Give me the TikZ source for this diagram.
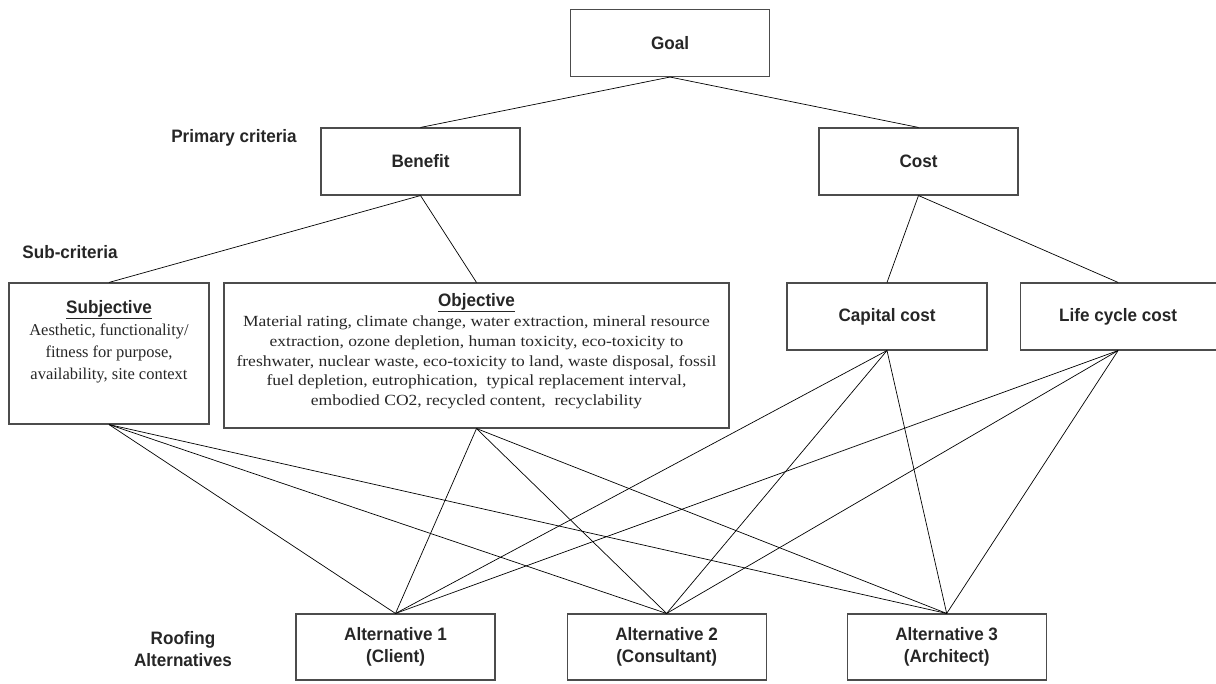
\documentclass[tikz,border=0pt]{standalone}
\usepackage{fontspec}
\setmainfont{Liberation Serif}
\setsansfont{Liberation Sans}[FakeStretch=0.95]
\newfontfamily\widefont{Liberation Serif}[FakeStretch=1.13]
\usetikzlibrary{positioning}

\begin{document}
\begin{tikzpicture}[
    x=1pt, y=-1pt,
    node distance=71pt and 71pt,
    box/.style={draw=black!70, line width=1.1pt, rectangle, minimum width=199pt, minimum height=67pt, inner sep=0pt, align=center, font=\fontsize{18}{22.5}\selectfont\sffamily\bfseries, text=black!85},
    level/.style={align=center, font=\fontsize{18}{21.5}\selectfont\sffamily\bfseries, text=black!85},
    body/.style={align=center, inner sep=0pt, font=\fontsize{16.5}{22}\selectfont\rmfamily, text=black!85},
    title/.style={font=\fontsize{18}{22}\selectfont\sffamily\bfseries},
    link/.style={draw, black, line width=0.7pt}
]
    \useasboundingbox (0,0) rectangle (1216,684);

    % goal and primary criteria
    \node[box] (goal) at (670,43) {Goal};
    \node[box] (benefit) at (420.5,161.5) {Benefit};
    \node[box] (cost) at (918.5,161.5) {Cost};

    % sub-criteria
    \node[box, minimum width=200pt, minimum height=141pt] (subj) at (109,353.5) {};
    \node[box, minimum width=505pt, minimum height=145pt] (obj) at (476.5,355.5) {};
    \node[box, minimum width=200pt] (capital) at (887,316.5) {Capital cost};
    \node[box, minimum width=196pt, right=32pt of capital] (life) {Life cycle cost};

    \node[body, anchor=north] (subjtxt) at (109,300) {{\fontsize{18}{22}\selectfont\sffamily\bfseries\underline{Subjective}}\\
        Aesthetic, functionality/\\
        fitness for purpose,\\
        availability, site context};
    \node[body, anchor=north, font=\fontsize{15.5}{19.6}\selectfont\widefont] (objtxt) at (476.5,293) {{\fontsize{18}{22}\selectfont\sffamily\bfseries\underline{Objective}}\\[1pt]
        Material rating, climate change, water extraction, mineral resource\\
        extraction, ozone depletion, human toxicity, eco-toxicity to\\
        freshwater, nuclear waste, eco-toxicity to land, waste disposal, fossil\\
        fuel depletion, eutrophication,\ \ typical replacement interval,\\
        embodied CO2, recycled content,\ \ recyclability};

    % alternatives
    \node[box, minimum height=66pt] (alt1) at (395.5,647) {Alternative 1\\(Client)};
    \node[box, minimum height=66pt, right=71pt of alt1] (alt2) {Alternative 2\\(Consultant)};
    \node[box, minimum height=66pt, right=80pt of alt2] (alt3) {Alternative 3\\(Architect)};

    % level labels
    \node[level] (primlbl) at (234,137.5) {Primary criteria};
    \node[level] (sublbl) at (70,252) {Sub-criteria};
    \node[level] (altlbl) at (183,649) {Roofing\\Alternatives};

    % connectors
    \draw[link] (goal.south) -- (benefit.north);
    \draw[link] (goal.south) -- (cost.north);
    \draw[link] (benefit.south) -- (subj.north);
    \draw[link] (benefit.south) -- (obj.north);
    \draw[link] (cost.south) -- (capital.north);
    \draw[link] (cost.south) -- (life.north);
    \foreach \s in {subj,obj,capital,life}
        \foreach \a in {alt1,alt2,alt3}
            \draw[link] (\s.south) -- (\a.north);
\end{tikzpicture}
\end{document}
